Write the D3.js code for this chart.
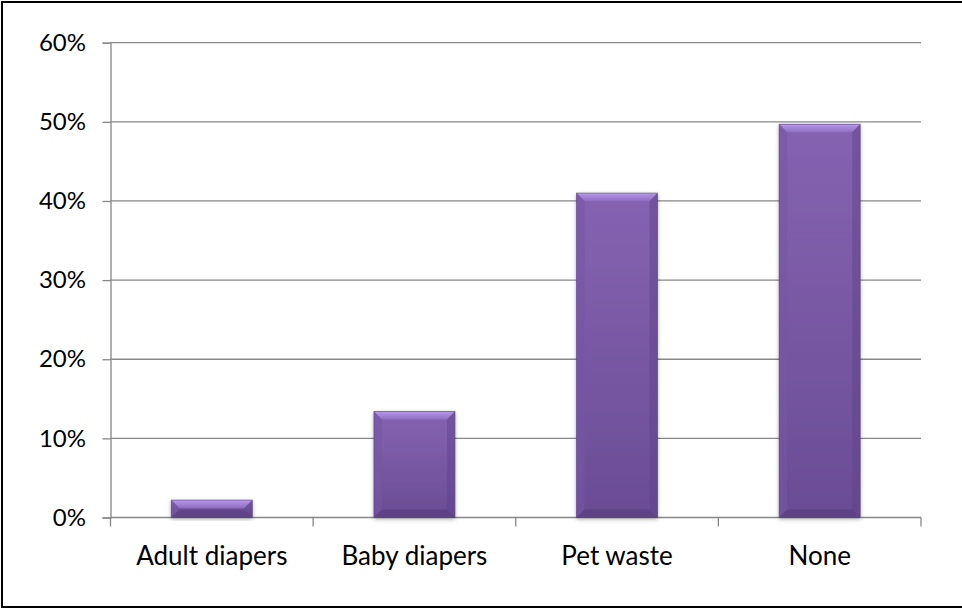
<!DOCTYPE html>
<html>
<head>
<meta charset="utf-8">
<script src="https://cdn.jsdelivr.net/npm/d3@7"></script>
<style>
  html, body { margin: 0; padding: 0; background: #fff; }
  svg { display: block; }
  text { font-family: Lato, "Open Sans", sans-serif; fill: #000; }
</style>
</head>
<body>
<svg id="chart" width="962" height="610"></svg>
<script>
// ---- data ----
const categories = ["Adult diapers", "Baby diapers", "Pet waste", "None"];
const values = [0.022, 0.134, 0.410, 0.497];
const yTicks = [0, 0.1, 0.2, 0.3, 0.4, 0.5, 0.6];

// ---- layout ----
const W = 962, H = 610;
const plot = { left: 110.5, right: 921, top: 42.7, bottom: 517.5 };

const svg = d3.select("#chart");

// outer chart border (right edge lies outside the picture)
svg.append("rect")
  .attr("x", 2).attr("y", 2)
  .attr("width", W + 10).attr("height", 605)
  .attr("fill", "#fff").attr("stroke", "#000").attr("stroke-width", 2);

const x = d3.scaleBand().domain(categories)
  .range([plot.left, plot.right]).paddingInner(0.6).paddingOuter(0.3);
const y = d3.scaleLinear().domain([0, 0.6]).range([plot.bottom, plot.top]);
const fmt = d3.format(".0%");

const defs = svg.append("defs");
const body = defs.append("linearGradient").attr("id", "gBody")
  .attr("x1", 0).attr("y1", 0).attr("x2", 0).attr("y2", 1);
body.append("stop").attr("offset", "0%").attr("stop-color", "#8663b2");
body.append("stop").attr("offset", "100%").attr("stop-color", "#6a4c94");
const topG = defs.append("linearGradient").attr("id", "gTop")
  .attr("x1", 0).attr("y1", 0).attr("x2", 0).attr("y2", 1);
topG.append("stop").attr("offset", "0%").attr("stop-color", "#b898ea");
topG.append("stop").attr("offset", "100%").attr("stop-color", "#906fc2");
const shadow = defs.append("filter").attr("id", "shadow")
  .attr("x", "-20%").attr("y", "-20%").attr("width", "140%").attr("height", "140%");
shadow.append("feDropShadow").attr("dx", 0).attr("dy", 1.5)
  .attr("stdDeviation", 2).attr("flood-color", "#000").attr("flood-opacity", 0.35);

// gridlines
const grid = svg.append("g");
grid.selectAll("line").data(yTicks.filter(d => d > 0)).join("line")
  .attr("x1", plot.left).attr("x2", plot.right)
  .attr("y1", d => y(d)).attr("y2", d => y(d))
  .attr("stroke", "#878787").attr("stroke-width", 1.3);

// y axis
const yAxis = svg.append("g").attr("transform", `translate(${plot.left},0)`)
  .call(d3.axisLeft(y).tickValues(yTicks).tickFormat(fmt).tickSize(8).tickPadding(16.5));
yAxis.select(".domain").attr("stroke", "#878787").attr("stroke-width", 1.3);
yAxis.selectAll(".tick line").attr("stroke", "#878787").attr("stroke-width", 1.3);
yAxis.selectAll(".tick text").attr("font-size", 24).attr("font-family", "Lato").attr("fill", "#000");

// x axis
const xAxisG = svg.append("g").attr("transform", `translate(0,${plot.bottom})`);
xAxisG.append("line").attr("x1", plot.left).attr("x2", plot.right)
  .attr("stroke", "#878787").attr("stroke-width", 1.3);
const bounds = categories.map(c => x(c) - x.step() * x.paddingInner() / 2);
bounds.push(plot.right);
xAxisG.selectAll("line.tk").data(bounds).join("line").attr("class", "tk")
  .attr("x1", d => d).attr("x2", d => d).attr("y1", 0).attr("y2", 9)
  .attr("stroke", "#878787").attr("stroke-width", 1.3);
xAxisG.selectAll("text").data(categories).join("text")
  .attr("x", d => x(d) + x.bandwidth() / 2).attr("y", 47)
  .attr("text-anchor", "middle").attr("font-size", 26)
  .text(d => d);

// bars with bevel
const bars = svg.append("g");
categories.forEach((c, i) => {
  const x0 = x(c), x1 = x0 + x.bandwidth();
  const y0 = y(values[i]), y1 = y(0);
  const h = y1 - y0;
  const b = Math.min(8, h / 2.2);
  const g = bars.append("g");
  g.append("rect").attr("x", x0).attr("y", y0).attr("width", x1 - x0).attr("height", h)
    .attr("fill", "url(#gBody)").attr("filter", "url(#shadow)");
  const poly = (pts, fill, op) => g.append("polygon")
    .attr("points", pts.map(p => p.join(",")).join(" ")).attr("fill", fill).attr("opacity", op);
  poly([[x0, y0], [x1, y0], [x1 - b, y0 + b], [x0 + b, y0 + b]], "url(#gTop)", 1);
  poly([[x0, y0], [x0 + b, y0 + b], [x0 + b, y1 - b], [x0, y1]], "#7656a3", 0.6);
  poly([[x1, y0], [x1 - b, y0 + b], [x1 - b, y1 - b], [x1, y1]], "#5e4287", 0.45);
  poly([[x0, y1], [x1, y1], [x1 - b, y1 - b], [x0 + b, y1 - b]], "#5a3f82", 0.75);
  g.append("rect").attr("x", x0).attr("y", y0).attr("width", x1 - x0).attr("height", h)
    .attr("fill", "none").attr("stroke", "#5b4181").attr("stroke-width", 0.8).attr("opacity", 0.7);
});
</script>
</body>
</html>
